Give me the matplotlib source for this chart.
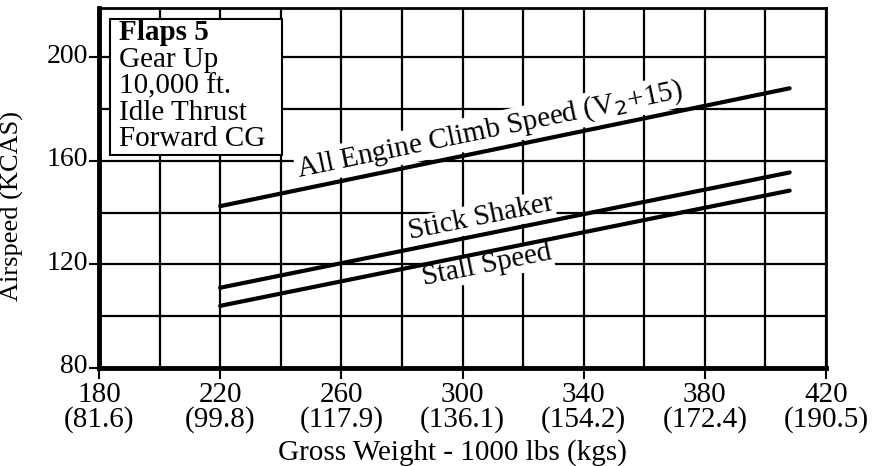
import numpy as np
import matplotlib
matplotlib.use("Agg")
import matplotlib.pyplot as plt
from matplotlib.transforms import ScaledTranslation

plt.rcParams['font.family'] = ['Liberation Serif', 'DejaVu Serif']

# gross weight (1000 lbs) at the two ends of each line
weight = [220, 408]
climb_speed = [142.5, 188]
stick_shaker = [111, 155.5]
stall_speed = [104, 148.5]

x_ticks = [180, 220, 260, 300, 340, 380, 420]
x_kgs = ['81.6', '99.8', '117.9', '136.1', '154.2', '172.4', '190.5']
y_ticks = [80, 120, 160, 200]

info_lines = ['Gear Up', '10,000 ft.', 'Idle Thrust', 'Forward CG']

fs = 21

fig = plt.figure(figsize=(8.74, 4.66), dpi=100)
ax = fig.add_axes([99/874, 1 - 368/466, 727/874, 360/466])
ax.set_xlim(180, 420)
ax.set_ylim(80, 219)

# grid every 20 both ways
ax.set_xticks(np.arange(180, 421, 20), minor=True)
ax.set_yticks(np.arange(80, 220, 20), minor=True)
ax.grid(which='both', color='black', lw=1.6, zorder=1)
ax.set_axisbelow(True)

ax.set_xticks(x_ticks)
ax.set_xticklabels([f'{w}\n({k})' for w, k in zip(x_ticks, x_kgs)], linespacing=0.92)
ax.set_yticks(y_ticks)
ax.tick_params(which='major', width=1.5, direction='out')
ax.tick_params(axis='x', length=8, labelsize=fs, pad=2)
ax.tick_params(axis='y', length=7, labelsize=20, pad=1)
ax.tick_params(which='minor', length=0)

# lift the y tick labels a touch so "80" clears "180"
for lbl in ax.get_yticklabels():
    lbl.set_transform(lbl.get_transform() + ScaledTranslation(0, 3/72, fig.dpi_scale_trans))

for side in ['left', 'bottom']:
    ax.spines[side].set_linewidth(3.5)
for side in ['top', 'right']:
    ax.spines[side].set_linewidth(2)

ax.set_xlabel('Gross Weight - 1000 lbs (kgs)', fontsize=fs)
ax.set_ylabel('Airspeed (KCAS)', fontsize=19)
ax.xaxis.set_label_coords(0.486, -0.198)
ax.yaxis.set_label_coords(-0.103, 0.45)

for speeds in [climb_speed, stick_shaker, stall_speed]:
    ax.plot(weight, speeds, color='black', lw=3, solid_capstyle='round', zorder=5)

# rotate labels to follow the lines on screen
fig.canvas.draw()
def screen_angle(ys):
    p = ax.transData.transform(np.column_stack([weight, ys]))
    return np.degrees(np.arctan2(p[1, 1] - p[0, 1], p[1, 0] - p[0, 0]))

box = dict(facecolor='white', edgecolor='none', pad=1)
ax.text(309, 172, 'All Engine Climb Speed (V$_2$+15)', fontsize=fs,
        rotation=screen_angle(climb_speed), rotation_mode='anchor',
        ha='center', va='center', bbox=box, zorder=3)
ax.text(306, 138, 'Stick Shaker', fontsize=fs,
        rotation=screen_angle(stick_shaker), rotation_mode='anchor',
        ha='center', va='center', bbox=box, zorder=3)
ax.text(308, 119.5, 'Stall Speed', fontsize=fs,
        rotation=screen_angle(stall_speed), rotation_mode='anchor',
        ha='center', va='center', bbox=box, zorder=3)

# conditions box in the upper left corner
fig.patches.append(plt.Rectangle((110/874, 1 - 155/466), 172/874, 136/466,
                                 transform=fig.transFigure, facecolor='white',
                                 edgecolor='black', lw=1.5, zorder=10))
fig.text(119/874, 1 - 33/466, 'Flaps 5', fontsize=fs, fontweight='bold',
         va='center', zorder=11)
for i, line in enumerate(info_lines):
    fig.text(119/874, 1 - (60 + 26.5 * i)/466, line, fontsize=fs,
             va='center', zorder=11)

fig.savefig('out.png', dpi=100)
